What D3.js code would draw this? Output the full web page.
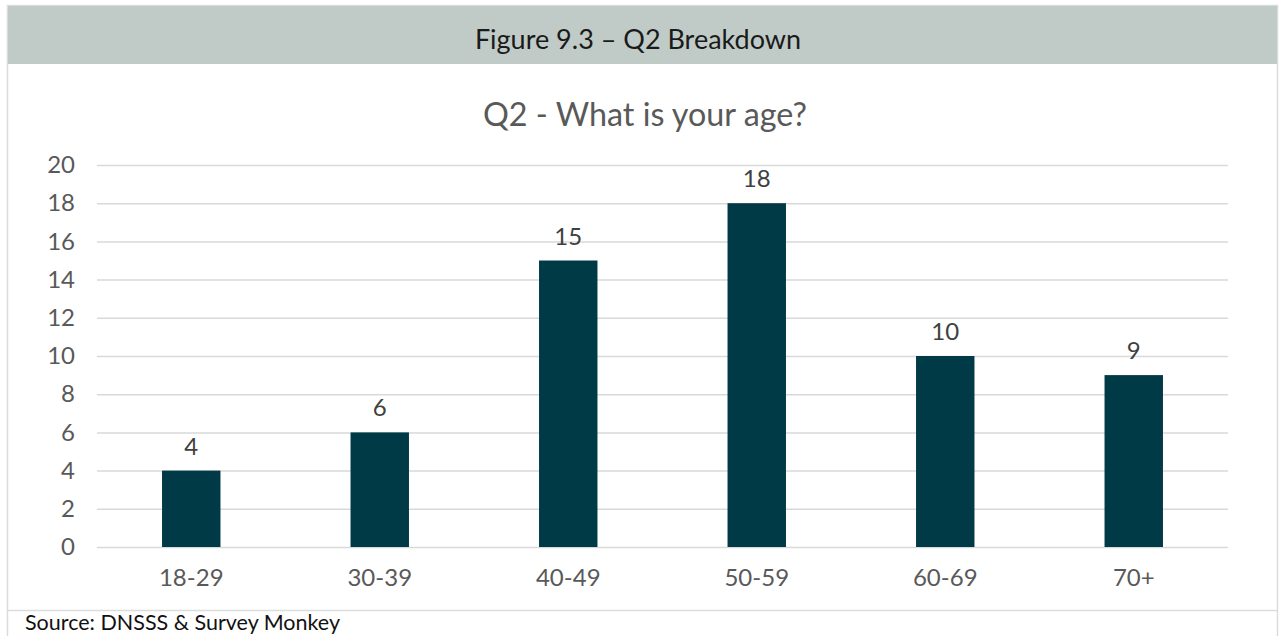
<!DOCTYPE html>
<html><head><meta charset="utf-8">
<script src="https://cdn.jsdelivr.net/npm/d3@7"></script>
<style>html,body{margin:0;padding:0;background:#fff;}svg{display:block;}</style>
</head><body>
<svg id="c" width="1280" height="636"></svg>
<script>
const categories = ["18-29","30-39","40-49","50-59","60-69","70+"];
const values = [4,6,15,18,10,9];
const yTicks = [0,2,4,6,8,10,12,14,16,18,20];
const headerTitle = "Figure 9.3 – Q2 Breakdown";
const chartTitle = "Q2 - What is your age?";
const sourceText = "Source: DNSSS & Survey Monkey";

const svg = d3.select("#c");
const font = "Lato, 'Open Sans', sans-serif";

// frame
svg.append("rect").attr("x",7.5).attr("y",5.5).attr("width",1270).attr("height",640)
  .attr("fill","#fff").attr("stroke","#d9dedc").attr("stroke-width",1.5);
svg.append("rect").attr("x",8).attr("y",6).attr("width",1269).attr("height",58).attr("fill","#c0cbc7");
svg.append("text").attr("x",638).attr("y",49).attr("text-anchor","middle")
  .attr("font-family",font).attr("font-size",27).attr("fill","#1a1a1a").text(headerTitle);
svg.append("line").attr("x1",8).attr("x2",1277).attr("y1",610.5).attr("y2",610.5)
  .attr("stroke","#d9dedc").attr("stroke-width",1.5);
svg.append("text").attr("x",25).attr("y",630).attr("font-family",font).attr("font-size",21.5)
  .attr("fill","#111").text(sourceText);

svg.append("text").attr("x",645).attr("y",126).attr("text-anchor","middle")
  .attr("font-family",font).attr("font-size",32.3).attr("fill","#595959").text(chartTitle);

const x = d3.scaleBand().domain(categories).range([97,1228]).paddingInner(0.69).paddingOuter(0.345);
const y = d3.scaleLinear().domain([0,20]).range([547,165]);

const yAxis = svg.append("g").attr("transform","translate(97,0)")
  .call(d3.axisLeft(y).tickValues(yTicks).tickSize(-1131).tickPadding(22));
yAxis.select(".domain").remove();
yAxis.selectAll("line").attr("stroke","#d9d9d9").attr("stroke-width",1.5);
yAxis.selectAll("text").attr("font-family",font).attr("font-size",24).attr("fill","#595959");

const xAxis = svg.append("g").attr("transform","translate(0,547)")
  .call(d3.axisBottom(x).tickSize(0).tickPadding(22));
xAxis.select(".domain").remove();
xAxis.selectAll("text").attr("font-family",font).attr("font-size",24).attr("fill","#595959");

svg.append("g").selectAll("rect").data(values).join("rect")
  .attr("x",(d,i)=>x(categories[i])).attr("width",x.bandwidth())
  .attr("y",d=>y(d)).attr("height",d=>y(0)-y(d)).attr("fill","#003a46");

svg.append("g").selectAll("text").data(values).join("text")
  .attr("x",(d,i)=>x(categories[i])+x.bandwidth()/2).attr("y",d=>y(d)-16)
  .attr("text-anchor","middle").attr("font-family",font).attr("font-size",24).attr("fill","#404040")
  .text(d=>d);
</script>
</body></html>
